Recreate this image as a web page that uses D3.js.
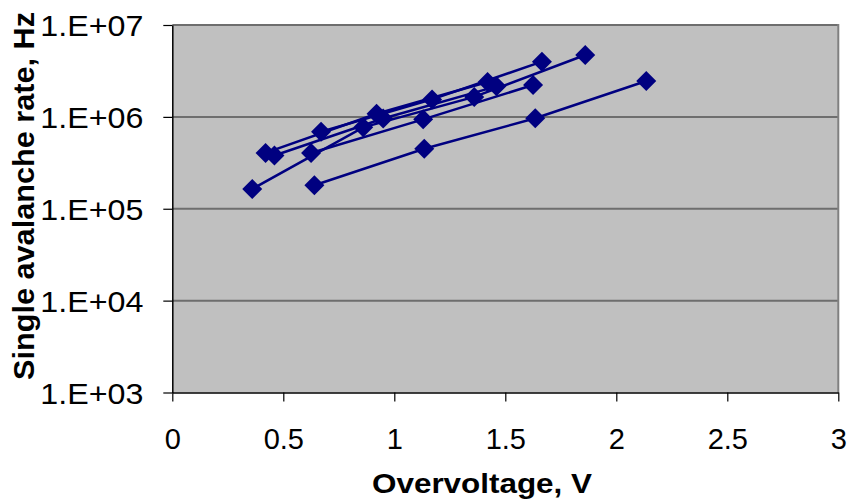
<!DOCTYPE html>
<html>
<head>
<meta charset="utf-8">
<script src="https://cdn.jsdelivr.net/npm/d3@7"></script>
<style>
  body { margin: 0; background: #ffffff; }
  svg { display: block; font-family: "Liberation Sans", Arial, sans-serif; }
</style>
</head>
<body>
<div id="chart"></div>
<script>
// overvoltage (V) and single avalanche rate (Hz), one pair of arrays per curve
var volts1 = [0.36, 0.86, 1.36, 1.86];
var rates1 = [1.64e5, 7.7e5, 1.65e6, 4.72e6];

var volts2 = [0.42, 0.92, 1.42];
var rates2 = [4.05e5, 1.08e6, 2.4e6];

var volts3 = [0.46, 0.95, 1.46];
var rates3 = [3.8e5, 9.6e5, 2.15e6];

var volts4 = [0.625, 1.13, 1.625];
var rates4 = [4.05e5, 9.4e5, 2.22e6];

var volts5 = [0.67, 1.17, 1.665];
var rates5 = [6.9e5, 1.55e6, 3.99e6];

var volts6 = [0.64, 1.135, 1.635, 2.135];
var rates6 = [1.8e5, 4.5e5, 9.65e5, 2.46e6];

var xTicks = [0, 0.5, 1, 1.5, 2, 2.5, 3];
var yTicks = [1e3, 1e4, 1e5, 1e6, 1e7];
var yTickLabels = ['1.E+03', '1.E+04', '1.E+05', '1.E+06', '1.E+07'];

var xTitle = 'Overvoltage, V';
var yTitle = 'Single avalanche rate, Hz';

var width = 848, height = 502;
var plot = {left: 172.3, right: 838.3, top: 25, bottom: 392.5};
var navy = '#000080';
var fontSize = 28;

var svg = d3.select('#chart').append('svg')
    .attr('width', width)
    .attr('height', height);

var x = d3.scaleLinear()
    .domain([0, 3])
    .range([plot.left, plot.right]);

var y = d3.scaleLog()
    .domain([1e3, 1e7])
    .range([plot.bottom, plot.top]);

// plot area
svg.append('rect')
    .attr('x', plot.left)
    .attr('y', plot.top)
    .attr('width', plot.right - plot.left)
    .attr('height', plot.bottom - plot.top)
    .attr('fill', '#c0c0c0');

// gridlines at each decade
svg.append('g')
    .attr('class', 'grid')
    .selectAll('line')
    .data(yTicks.slice(1))
    .enter().append('line')
    .attr('x1', plot.left)
    .attr('x2', plot.right)
    .attr('y1', function(d) { return y(d); })
    .attr('y2', function(d) { return y(d); })
    .attr('stroke', '#6e6e6e')
    .attr('stroke-width', 2);

// right border
svg.append('line')
    .attr('x1', plot.right)
    .attr('x2', plot.right)
    .attr('y1', plot.top - 1)
    .attr('y2', plot.bottom)
    .attr('stroke', '#808080')
    .attr('stroke-width', 2);

// axes
var xAxis = d3.axisBottom(x)
    .tickValues(xTicks)
    .tickSizeInner(9)
    .tickSizeOuter(0)
    .tickPadding(27)
    .tickFormat(function(d) { return String(d); });

var gx = svg.append('g')
    .attr('transform', 'translate(0,' + plot.bottom + ')')
    .call(xAxis);

gx.select('.domain').attr('stroke', '#000').attr('stroke-width', 1.5);
gx.selectAll('.tick line').attr('stroke', '#000').attr('stroke-width', 1.2);
gx.selectAll('.tick text')
    .attr('font-size', 29)
    .attr('font-family', '"Liberation Sans", Arial, sans-serif')
    .attr('fill', '#000');

var yAxis = d3.axisLeft(y)
    .tickValues(yTicks)
    .tickSizeInner(9)
    .tickSizeOuter(0)
    .tickPadding(20)
    .tickFormat(function(d, i) { return yTickLabels[i]; });

var gy = svg.append('g')
    .attr('transform', 'translate(' + plot.left + ',0)')
    .call(yAxis);

gy.select('.domain').attr('stroke', '#000').attr('stroke-width', 1.5);
gy.selectAll('.tick line').attr('stroke', '#000').attr('stroke-width', 1.2);
gy.selectAll('.tick text')
    .attr('font-size', 30)
    .attr('dy', '0.36em')
    .attr('font-family', '"Liberation Sans", Arial, sans-serif')
    .attr('fill', '#000')
    .attr('textLength', 103)
    .attr('lengthAdjust', 'spacingAndGlyphs');

// curves
var curves = [
    [volts1, rates1],
    [volts2, rates2],
    [volts3, rates3],
    [volts4, rates4],
    [volts5, rates5],
    [volts6, rates6]
];

var line = d3.line()
    .x(function(d) { return x(d[0]); })
    .y(function(d) { return y(d[1]); });

var diamond = 'M0,-10L10,0L0,10L-10,0Z';

curves.forEach(function(c) {
    var pts = d3.zip(c[0], c[1]);
    var g = svg.append('g').attr('class', 'curve');

    g.append('path')
	.datum(pts)
	.attr('d', line)
	.attr('fill', 'none')
	.attr('stroke', navy)
	.attr('stroke-width', 2.5);

    g.selectAll('path.marker')
	.data(pts)
	.enter().append('path')
	.attr('class', 'marker')
	.attr('d', diamond)
	.attr('transform', function(d) { return 'translate(' + x(d[0]) + ',' + y(d[1]) + ')'; })
	.attr('fill', navy);
});

// titles
svg.append('text')
    .attr('x', 482)
    .attr('y', 493)
    .attr('text-anchor', 'middle')
    .attr('font-size', fontSize)
    .attr('font-weight', 'bold')
    .attr('textLength', 220)
    .attr('lengthAdjust', 'spacingAndGlyphs')
    .text(xTitle);

svg.append('text')
    .attr('transform', 'translate(34,196) rotate(-90)')
    .attr('text-anchor', 'middle')
    .attr('font-size', 29)
    .attr('font-weight', 'bold')
    .attr('textLength', 368)
    .attr('lengthAdjust', 'spacingAndGlyphs')
    .text(yTitle);
</script>
</body>
</html>
